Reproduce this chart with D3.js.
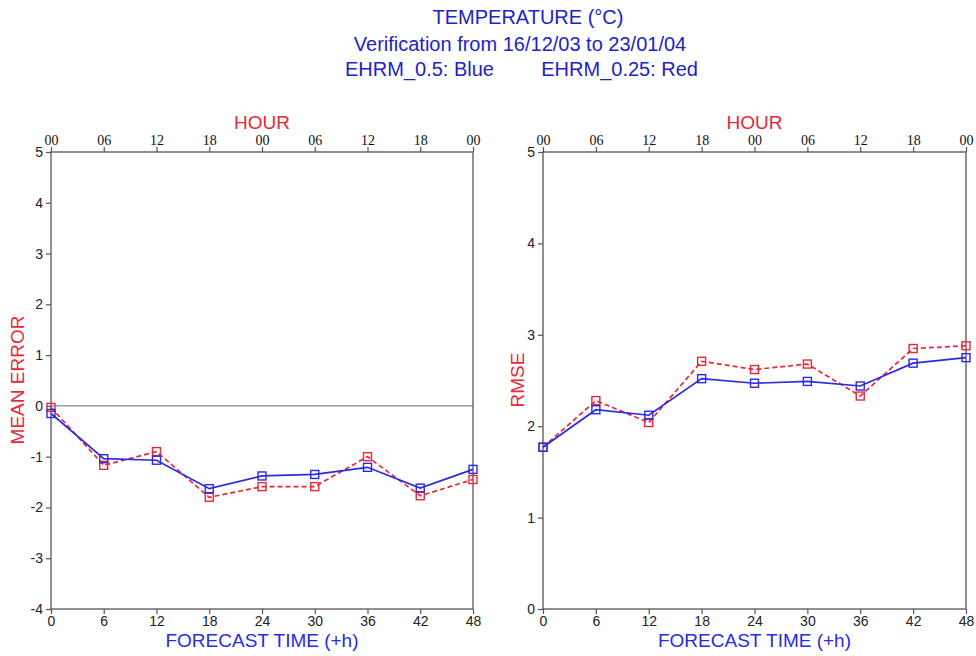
<!DOCTYPE html>
<html><head><meta charset="utf-8">
<script src="https://cdn.jsdelivr.net/npm/d3@7"></script>
<style>
body{margin:0;background:#fff;}
svg{display:block;}
</style></head>
<body>
<svg id="chart" width="976" height="656"></svg>
<script>
// ---- data ----
const forecastHours = [0, 6, 12, 18, 24, 30, 36, 42, 48];
const hourLabels = ["00", "06", "12", "18", "00", "06", "12", "18", "00"];
const meanErrorBlue = [-0.15, -1.04, -1.07, -1.63, -1.38, -1.35, -1.21, -1.62, -1.25];
const meanErrorRed  = [-0.03, -1.17, -0.90, -1.80, -1.59, -1.59, -1.00, -1.77, -1.45];
const rmseBlue = [1.77, 2.18, 2.12, 2.52, 2.47, 2.49, 2.44, 2.69, 2.75];
const rmseRed  = [1.77, 2.28, 2.04, 2.71, 2.62, 2.68, 2.33, 2.85, 2.88];
const meanErrorTicks = [-4, -3, -2, -1, 0, 1, 2, 3, 4, 5];
const rmseTicks = [0, 1, 2, 3, 4, 5];
const titleLines = ["TEMPERATURE (°C)", "Verification from 16/12/03 to 23/01/04"];
const legendBlue = "EHRM_0.5: Blue";
const legendRed = "EHRM_0.25: Red";

const BLUE = "#2a2ae6", RED = "#e8283a", TITLE = "#2222c8", AXIS = "#555";
const svg = d3.select("#chart");
const SANS = "Liberation Sans, Arial, sans-serif";

// titles
svg.append("text").attr("x", 528).attr("y", 24).attr("text-anchor", "middle")
  .attr("font-family", SANS).attr("font-size", 20).attr("fill", TITLE).text(titleLines[0]);
svg.append("text").attr("x", 520).attr("y", 51).attr("text-anchor", "middle")
  .attr("font-family", SANS).attr("font-size", 20).attr("fill", TITLE).text(titleLines[1]);
svg.append("text").attr("x", 345).attr("y", 76).attr("text-anchor", "start")
  .attr("font-family", SANS).attr("font-size", 20).attr("fill", TITLE).text(legendBlue);
svg.append("text").attr("x", 698).attr("y", 76).attr("text-anchor", "end")
  .attr("font-family", SANS).attr("font-size", 20).attr("fill", TITLE).text(legendRed);

function panel(opts) {
  const x = d3.scaleLinear().domain([0, 48]).range([opts.x0, opts.x1]);
  const y = d3.scaleLinear().domain(opts.yDomain).range([609, 152]);
  const g = svg.append("g");

  if (opts.zeroLine) {
    g.append("line").attr("x1", x(0)).attr("x2", x(48)).attr("y1", y(0)).attr("y2", y(0))
      .attr("stroke", "#888").attr("stroke-width", 1.2);
  }

  g.append("rect").attr("x", x(0)).attr("y", y(opts.yDomain[1]))
    .attr("width", x(48) - x(0)).attr("height", y(opts.yDomain[0]) - y(opts.yDomain[1]))
    .attr("fill", "none").attr("stroke", AXIS).attr("stroke-width", 1.3);

  const ya = g.append("g").attr("transform", `translate(${x(0)},0)`)
    .call(d3.axisLeft(y).tickValues(opts.yTicks).tickSize(5).tickPadding(3).tickFormat(d => String(d)));
  ya.select(".domain").remove();
  ya.selectAll("line").attr("stroke", AXIS).attr("stroke-width", 1.2);
  ya.selectAll("text").attr("font-family", SANS).attr("font-size", 14).attr("fill", "#222");

  const xa = g.append("g").attr("transform", `translate(0,${y(opts.yDomain[0])})`)
    .call(d3.axisBottom(x).tickValues(forecastHours).tickSize(5).tickPadding(2).tickFormat(d => String(d)));
  xa.select(".domain").remove();
  xa.selectAll("line").attr("stroke", AXIS).attr("stroke-width", 1.2);
  xa.selectAll("text").attr("font-family", "Liberation Sans Narrow, Arial Narrow, Liberation Sans, sans-serif")
    .attr("font-size", 14).attr("fill", "#222");

  const ta = g.append("g").attr("transform", `translate(0,${y(opts.yDomain[1])})`)
    .call(d3.axisTop(x).tickValues(forecastHours).tickSize(5).tickPadding(2).tickFormat((d, i) => hourLabels[i]));
  ta.select(".domain").remove();
  ta.selectAll("line").attr("stroke", AXIS).attr("stroke-width", 1.2);
  ta.selectAll("text").attr("font-family", "Liberation Serif, Times New Roman, serif")
    .attr("font-size", 14).attr("fill", "#111");

  g.append("text").attr("x", (x(0) + x(48)) / 2).attr("y", 129).attr("text-anchor", "middle")
    .attr("font-family", SANS).attr("font-size", 19).attr("fill", RED).text("HOUR");

  g.append("text").attr("x", (x(0) + x(48)) / 2).attr("y", 647).attr("text-anchor", "middle")
    .attr("font-family", SANS).attr("font-size", 19).attr("fill", BLUE).text("FORECAST TIME (+h)");

  g.append("text").attr("transform", `translate(${opts.yTitleX},380) rotate(-90)`)
    .attr("text-anchor", "middle")
    .attr("font-family", SANS).attr("font-size", 19).attr("fill", RED).text(opts.yTitle);

  const line = d3.line().x((d, i) => x(forecastHours[i])).y(d => y(d));
  const series = [
    { vals: opts.red, color: RED, dash: "5,3" },
    { vals: opts.blue, color: BLUE, dash: null }
  ];
  series.forEach(s => {
    g.append("path").datum(s.vals).attr("d", line).attr("fill", "none")
      .attr("stroke", s.color).attr("stroke-width", 1.7).attr("stroke-dasharray", s.dash);
    g.selectAll(null).data(s.vals).enter().append("rect")
      .attr("x", (d, i) => x(forecastHours[i]) - 4).attr("y", d => y(d) - 4)
      .attr("width", 8).attr("height", 8).attr("fill", "none")
      .attr("stroke", s.color).attr("stroke-width", 1.4);
  });
}

panel({ x0: 51, x1: 473, yDomain: [-4, 5], yTicks: meanErrorTicks, zeroLine: true,
  blue: meanErrorBlue, red: meanErrorRed, yTitle: "MEAN ERROR", yTitleX: 24 });
panel({ x0: 543, x1: 966, yDomain: [0, 5], yTicks: rmseTicks, zeroLine: false,
  blue: rmseBlue, red: rmseRed, yTitle: "RMSE", yTitleX: 524 });
</script>
</body></html>
